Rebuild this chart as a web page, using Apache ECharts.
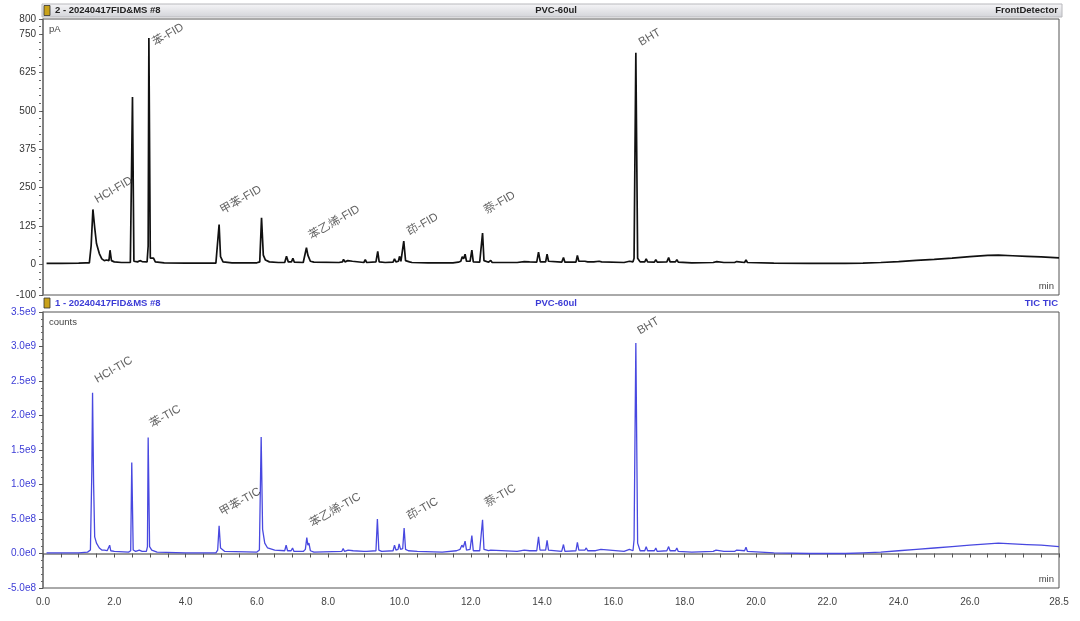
<!DOCTYPE html>
<html><head><meta charset="utf-8">
<script src="https://cdn.jsdelivr.net/npm/echarts@6/dist/echarts.min.js"></script>
<style>html,body{margin:0;padding:0;background:#fff}#c{width:1080px;height:621px}</style>
</head><body><div id="c"></div>
<script>
// ---------- tick labels ----------
const xTickValues = [0, 2, 4, 6, 8, 10, 12, 14, 16, 18, 20, 22, 24, 26, 28.5];
const fidTickValues = [-100, 0, 125, 250, 375, 500, 625, 750, 800];
const ticTickValues = [-0.5, 0, 0.5, 1.0, 1.5, 2.0, 2.5, 3.0, 3.5];
const ticTickLabels = ['-5.0e8', '0.0e0', '5.0e8', '1.0e9', '1.5e9', '2.0e9', '2.5e9', '3.0e9', '3.5e9'];

// ---------- FID trace: [time (min), signal (pA)] ----------
const fidPoints = [
  [0.1,3],[0.5,3],[1.0,4],[1.2,5],[1.30,5],
  [1.35,60],[1.40,179],[1.45,120],[1.50,68],[1.58,35],[1.65,18],[1.72,12],[1.78,14],[1.83,10],
  [1.85,12],[1.88,46],[1.92,12],[2.0,8],[2.2,6],[2.45,6],
  [2.48,10],[2.51,546],[2.55,10],[2.65,8],[2.72,12],[2.78,9],[2.92,8],
  [2.95,60],[2.97,738],[3.01,20],[3.06,18],[3.10,20],[3.15,8],[3.4,5],[4.0,4],[4.85,4],
  [4.90,10],[4.94,130],[4.98,25],[5.05,8],[5.3,5],[6.0,5],[6.08,8],
  [6.13,152],[6.18,30],[6.24,14],[6.35,8],[6.6,6],[6.78,6],
  [6.83,26],[6.88,8],[6.97,8],[7.01,20],[7.05,7],[7.3,6],
  [7.35,10],[7.39,54],[7.43,30],[7.46,36],[7.50,10],[7.6,7],[8.3,6],
  [8.40,8],[8.43,16],[8.47,8],[8.55,12],[8.59,7],[8.68,10],[8.72,6],[9.0,6],[9.04,15],[9.08,6],
  [9.34,8],[9.39,42],[9.43,8],[9.6,6],[9.82,7],[9.86,18],[9.9,8],[9.97,10],[10.0,26],[10.04,10],[10.08,12],
  [10.12,76],[10.17,12],[10.28,8],[10.31,10],[10.35,6],[10.8,5],[11.5,5],[11.65,7],
  [11.72,10],[11.76,25],[11.80,18],[11.84,33],[11.88,10],[11.98,10],[12.03,46],[12.07,8],[12.25,7],
  [12.29,12],[12.33,102],[12.37,12],[12.5,7],[12.56,13],[12.6,6],[13.3,6],[13.5,9],[13.65,8],[13.85,7],
  [13.9,40],[13.95,8],[14.1,8],[14.14,33],[14.18,10],[14.55,7],[14.6,22],[14.64,7],[14.95,7],[14.99,29],[15.03,10],
  [15.2,10],[15.24,16],[15.28,8],[15.45,8],[15.6,10],[15.67,8],[16.3,6],[16.45,10],[16.55,8],
  [16.58,20],[16.63,690],[16.68,20],[16.75,8],[16.88,8],[16.92,18],[16.96,8],[17.15,7],[17.19,15],[17.23,7],
  [17.5,8],[17.55,22],[17.59,8],[17.74,8],[17.78,15],[17.82,7],[18.2,5],[18.8,6],[18.9,9],[19.1,6],
  [19.4,6],[19.46,9],[19.5,6],[19.68,6],[19.72,14],[19.76,6],[20.5,4],[21.5,3],[22.0,3],[22.5,3],
  [23.0,4],[23.5,6],[24.0,9],[24.5,13],[25.0,16],[25.5,20],[26.0,25],[26.5,29],[26.8,30],[27.2,28],
  [27.6,26],[28.0,24],[28.5,21]
];

// ---------- TIC trace: [time (min), counts (x1e9)] ----------
const ticPoints = [
  [0.1,0.01],[1.0,0.01],[1.25,0.02],[1.33,0.05],[1.37,1.2],[1.39,2.33],[1.42,1.0],[1.45,0.24],[1.50,0.15],
  [1.58,0.08],[1.65,0.05],[1.72,0.05],[1.8,0.04],[1.84,0.05],[1.87,0.12],[1.90,0.04],[2.0,0.03],[2.4,0.02],
  [2.46,0.04],[2.49,1.32],[2.53,0.05],[2.6,0.03],[2.7,0.05],[2.78,0.03],[2.9,0.03],
  [2.93,0.1],[2.95,1.68],[2.99,0.1],[3.05,0.05],[3.1,0.06],[3.2,0.02],[4.0,0.01],[4.85,0.01],
  [4.9,0.05],[4.94,0.40],[4.98,0.08],[5.1,0.03],[6.0,0.02],[6.07,0.05],[6.12,1.69],[6.16,0.35],[6.22,0.15],
  [6.3,0.08],[6.5,0.05],[6.78,0.04],[6.82,0.12],[6.86,0.04],[6.96,0.04],[7.0,0.08],[7.04,0.03],[7.3,0.03],
  [7.36,0.06],[7.40,0.23],[7.43,0.12],[7.46,0.15],[7.5,0.04],[7.6,0.02],[8.38,0.03],[8.42,0.07],[8.46,0.03],
  [8.56,0.05],[8.6,0.03],[8.7,0.04],[8.74,0.02],[9.0,0.03],[9.04,0.05],[9.08,0.03],
  [9.34,0.04],[9.38,0.50],[9.42,0.05],[9.5,0.03],[9.82,0.04],[9.86,0.12],[9.9,0.05],[9.96,0.06],[9.99,0.14],
  [10.03,0.06],[10.09,0.07],[10.13,0.37],[10.17,0.06],[10.25,0.04],[10.5,0.03],[11.2,0.02],[11.6,0.04],
  [11.7,0.06],[11.75,0.12],[11.79,0.09],[11.84,0.18],[11.88,0.05],[11.98,0.06],[12.03,0.26],[12.07,0.04],
  [12.25,0.04],[12.29,0.06],[12.33,0.49],[12.37,0.06],[12.5,0.04],[12.56,0.05],[12.6,0.03],[13.3,0.03],
  [13.5,0.05],[13.65,0.04],[13.85,0.04],
  [13.9,0.24],[13.94,0.05],[14.1,0.05],[14.14,0.19],[14.18,0.05],[14.55,0.03],[14.6,0.13],[14.64,0.03],
  [14.95,0.04],[14.99,0.16],[15.03,0.05],[15.2,0.05],[15.24,0.08],[15.28,0.04],[15.5,0.04],[15.65,0.06],
  [15.7,0.04],[16.3,0.03],[16.45,0.06],[16.55,0.04],
  [16.58,0.2],[16.63,3.05],[16.68,0.15],[16.75,0.04],[16.88,0.04],[16.92,0.10],[16.96,0.04],[17.15,0.04],
  [17.19,0.08],[17.23,0.03],[17.5,0.04],[17.55,0.10],[17.59,0.04],[17.74,0.04],[17.78,0.08],[17.82,0.03],
  [18.2,0.02],[18.8,0.03],[18.88,0.05],[19.1,0.03],[19.4,0.03],[19.46,0.05],[19.5,0.03],[19.68,0.04],
  [19.72,0.09],[19.76,0.03],[20.5,0.01],[21.5,0.0],[22.0,0.0],[22.5,0.0],[23.0,0.01],[23.5,0.02],
  [24.0,0.04],[24.5,0.06],[25.0,0.08],[25.5,0.10],[26.0,0.12],[26.5,0.14],[26.8,0.15],[27.2,0.14],
  [27.6,0.13],[28.0,0.12],[28.5,0.10]
];

// ---------- peak annotations ----------
const fidLabelNames  = ['HCl-FID', '苯-FID', '甲苯-FID', '苯乙烯-FID', '茚-FID', '萘-FID', 'BHT'];
const fidLabelTimes  = [1.56, 3.18, 5.08, 7.56, 10.32, 12.48, 16.82];
const fidLabelValues = [192, 705, 157, 74, 86, 157, 705];
const ticLabelNames  = ['HCl-TIC', '苯-TIC', '甲苯-TIC', '苯乙烯-TIC', '茚-TIC', '萘-TIC', 'BHT'];
const ticLabelTimes  = [1.56, 3.10, 5.06, 7.59, 10.32, 12.50, 16.78];
const ticLabelValues = [2.44, 1.79, 0.51, 0.35, 0.45, 0.64, 3.14];

const FONT = '"Liberation Sans", Arial, "Noto Sans CJK SC", sans-serif';
const BLUE = '#3c3cd6';

const chart = echarts.init(document.getElementById('c'), null, {renderer: 'canvas'});

function labelSeries(names, times, values, xi, yi) {
  return {
    type: 'scatter', xAxisIndex: xi, yAxisIndex: yi, symbolSize: 0, silent: true,
    data: names.map((n, i) => ({value: [times[i], values[i]], name: n})),
    label: {
      show: true, position: [0, 0], align: 'left', verticalAlign: 'bottom', rotate: 30,
      formatter: p => p.name, color: '#3a3a3a', fontSize: 11.5, fontFamily: FONT
    },
    z: 5
  };
}

const option = {
  animation: false,
  backgroundColor: '#fff',
  grid: [
    {left: 43, top: 19, width: 1016, height: 276, show: true, borderColor: '#555', borderWidth: 1},
    {left: 43, top: 312, width: 1016, height: 276, show: true, borderColor: '#555', borderWidth: 1}
  ],
  xAxis: [
    {type: 'value', gridIndex: 0, min: 0, max: 28.5, axisLabel: {show: false}, axisTick: {show: false},
     axisLine: {show: false}, splitLine: {show: false}},
    {type: 'value', gridIndex: 1, min: 0, max: 28.5, interval: 0.5, offset: 3,
     axisLine: {show: true, lineStyle: {color: '#777', width: 1.5}},
     axisTick: {show: true, length: 4, lineStyle: {color: '#555'}},
     axisLabel: {customValues: xTickValues, formatter: v => v.toFixed(1), color: '#444', fontSize: 10, fontFamily: FONT, margin: 6},
     splitLine: {show: false}}
  ],
  yAxis: [
    {type: 'value', gridIndex: 0, position: 'left', min: -100, max: 800, offset: 2,
     axisLine: {show: true, lineStyle: {color: '#777', width: 1.5}},
     axisTick: {show: true, customValues: fidTickValues, length: 4, lineStyle: {color: '#555'}},
     axisLabel: {customValues: fidTickValues, color: '#333', fontSize: 10, fontFamily: FONT, margin: 5},
     splitLine: {show: false}},
    {type: 'value', gridIndex: 0, position: 'left', min: -100, max: 800, interval: 25, offset: 2,
     axisLine: {show: false}, axisLabel: {show: false}, splitLine: {show: false},
     axisTick: {show: true, length: 2, lineStyle: {color: '#666'}}},
    {type: 'value', gridIndex: 1, position: 'left', min: -0.5, max: 3.5, interval: 0.5, offset: 2,
     axisLine: {show: true, lineStyle: {color: '#777', width: 1.5}},
     axisTick: {show: true, length: 4, lineStyle: {color: '#555'}},
     minorTick: {show: true, splitNumber: 5, length: 2, lineStyle: {color: '#666'}},
     axisLabel: {color: BLUE, fontSize: 10, fontFamily: FONT, margin: 5,
       formatter: v => { const i = ticTickValues.findIndex(t => Math.abs(t - v) < 1e-9); return i >= 0 ? ticTickLabels[i] : ''; }},
     splitLine: {show: false}, minorSplitLine: {show: false}}
  ],
  series: [
    {type: 'line', xAxisIndex: 0, yAxisIndex: 0, data: fidPoints, showSymbol: false, symbol: 'none',
     lineStyle: {color: '#111', width: 1.7}, silent: true, z: 3},
    {type: 'line', xAxisIndex: 1, yAxisIndex: 2, data: ticPoints, showSymbol: false, symbol: 'none',
     lineStyle: {color: '#4848e0', width: 1.3}, silent: true, z: 3},
    labelSeries(fidLabelNames, fidLabelTimes, fidLabelValues, 0, 0),
    labelSeries(ticLabelNames, ticLabelTimes, ticLabelValues, 1, 2)
  ],
  graphic: [
    {type: 'rect', shape: {x: 42, y: 4, width: 1020, height: 13}, silent: true,
     style: {fill: new echarts.graphic.LinearGradient(0, 0, 0, 1, [{offset: 0, color: '#f6f6f8'}, {offset: 1, color: '#d2d3d8'}]), stroke: '#b8b8bc', lineWidth: 1}},
    {type: 'rect', shape: {x: 44, y: 5.5, width: 6, height: 10}, style: {fill: '#c9a21a', stroke: '#333', lineWidth: 0.8}},
    {type: 'text', x: 55, y: 10.5, style: {text: '2 - 20240417FID&MS #8', fill: '#222', font: 'bold 9.5px ' + FONT, verticalAlign: 'middle'}},
    {type: 'text', x: 556, y: 10.5, style: {text: 'PVC-60ul', fill: '#222', font: 'bold 9.5px ' + FONT, align: 'center', verticalAlign: 'middle'}},
    {type: 'text', x: 1058, y: 10.5, style: {text: 'FrontDetector', fill: '#222', font: 'bold 9.5px ' + FONT, align: 'right', verticalAlign: 'middle'}},
    {type: 'rect', shape: {x: 44, y: 298, width: 6, height: 10}, style: {fill: '#c9a21a', stroke: '#333', lineWidth: 0.8}},
    {type: 'text', x: 55, y: 303, style: {text: '1 - 20240417FID&MS #8', fill: BLUE, font: 'bold 9.5px ' + FONT, verticalAlign: 'middle'}},
    {type: 'text', x: 556, y: 303, style: {text: 'PVC-60ul', fill: BLUE, font: 'bold 9.5px ' + FONT, align: 'center', verticalAlign: 'middle'}},
    {type: 'text', x: 1058, y: 303, style: {text: 'TIC TIC', fill: BLUE, font: 'bold 9.5px ' + FONT, align: 'right', verticalAlign: 'middle'}},
    {type: 'text', x: 49, y: 29, style: {text: 'pA', fill: '#444', font: '9.5px ' + FONT, verticalAlign: 'middle'}},
    {type: 'text', x: 49, y: 322, style: {text: 'counts', fill: '#444', font: '9.5px ' + FONT, verticalAlign: 'middle'}},
    {type: 'text', x: 1054, y: 286, style: {text: 'min', fill: '#444', font: '9.5px ' + FONT, align: 'right', verticalAlign: 'middle'}},
    {type: 'text', x: 1054, y: 579, style: {text: 'min', fill: '#444', font: '9.5px ' + FONT, align: 'right', verticalAlign: 'middle'}}
  ]
};
chart.setOption(option);
</script>
</body></html>
